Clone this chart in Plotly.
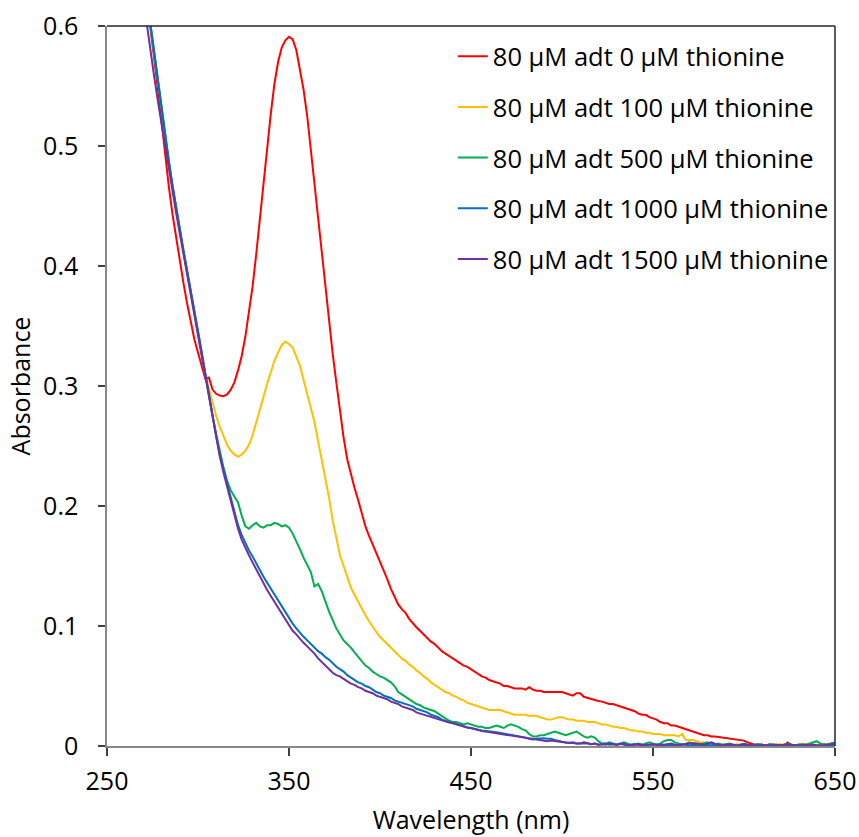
import plotly.graph_objects as go

# Wavelength grid (nm), 2 nm steps
wavelengths = list(range(270, 651, 2))

abs_0 = [
    0.645, 0.622, 0.597, 0.572, 0.547, 0.520, 0.491, 0.466, 0.443, 0.423,
    0.404, 0.386, 0.369, 0.353, 0.339, 0.328, 0.316, 0.306, 0.307, 0.297,
    0.2935, 0.292, 0.2915, 0.293, 0.297, 0.303, 0.313, 0.325, 0.341, 0.362,
    0.383, 0.410, 0.440, 0.468, 0.495, 0.527, 0.552, 0.570, 0.582, 0.588,
    0.591, 0.589, 0.580, 0.563, 0.547, 0.525, 0.497, 0.467, 0.437, 0.410,
    0.380, 0.353, 0.327, 0.303, 0.278, 0.257, 0.239, 0.226, 0.215, 0.205,
    0.194, 0.183, 0.175, 0.168, 0.161, 0.154, 0.147, 0.139, 0.131, 0.124,
    0.118, 0.114, 0.111, 0.106, 0.102, 0.099, 0.096, 0.093, 0.090, 0.087,
    0.085, 0.082, 0.079, 0.077, 0.075, 0.073, 0.071, 0.069, 0.067, 0.066,
    0.064, 0.062, 0.060, 0.058, 0.057, 0.055, 0.054, 0.053, 0.052, 0.050,
    0.050, 0.049, 0.048, 0.048, 0.048, 0.047, 0.049, 0.047, 0.046, 0.046,
    0.045, 0.045, 0.045, 0.045, 0.0455, 0.045, 0.044, 0.043, 0.042, 0.044,
    0.044, 0.041, 0.040, 0.039, 0.038, 0.0375, 0.037, 0.036, 0.035, 0.035,
    0.034, 0.033, 0.032, 0.031, 0.030, 0.029, 0.027, 0.026, 0.026, 0.024,
    0.023, 0.022, 0.020, 0.019, 0.019, 0.017, 0.017, 0.016, 0.015, 0.014,
    0.013, 0.012, 0.011, 0.010, 0.009, 0.009, 0.008, 0.008, 0.0075, 0.0075,
    0.007, 0.0065, 0.006, 0.0055, 0.005, 0.0045, 0.003, 0.002, 0.001, 0.0015,
    0.001, 0.0005, 0.0015, 0.001, 0.0005, 0.001, 0.0005, 0.003, 0.001, 0.0005,
    0.001, 0.0015, 0.001, 0.0005, 0.001, 0.0005, 0.001, 0.0015, 0.001, 0.0005,
    0.001,
]

abs_100 = [
    0.645, 0.622, 0.599, 0.576, 0.553, 0.531, 0.508, 0.487, 0.467, 0.448,
    0.430, 0.413, 0.396, 0.379, 0.362, 0.343, 0.325, 0.309, 0.298, 0.286,
    0.275, 0.266, 0.258, 0.251, 0.246, 0.243, 0.241, 0.243, 0.246, 0.251,
    0.259, 0.269, 0.279, 0.291, 0.302, 0.312, 0.321, 0.328, 0.334, 0.337,
    0.335, 0.332, 0.325, 0.317, 0.305, 0.294, 0.283, 0.270, 0.254, 0.239,
    0.224, 0.207, 0.188, 0.172, 0.159, 0.150, 0.141, 0.132, 0.126, 0.120,
    0.114, 0.109, 0.104, 0.099, 0.095, 0.091, 0.088, 0.085, 0.082, 0.079,
    0.076, 0.073, 0.071, 0.068, 0.066, 0.063, 0.061, 0.058, 0.056, 0.053,
    0.051, 0.049, 0.047, 0.045, 0.044, 0.042, 0.041, 0.039, 0.038, 0.036,
    0.035, 0.034, 0.033, 0.032, 0.031, 0.030, 0.030, 0.030, 0.030, 0.029,
    0.028, 0.027, 0.026, 0.026, 0.026, 0.026, 0.025, 0.0255, 0.025, 0.024,
    0.023, 0.022, 0.022, 0.023, 0.024, 0.024, 0.023, 0.022, 0.022, 0.021,
    0.021, 0.021, 0.020, 0.020, 0.020, 0.019, 0.018, 0.018, 0.017, 0.016,
    0.016, 0.015, 0.015, 0.014, 0.013, 0.013, 0.012, 0.012, 0.011, 0.011,
    0.010, 0.010, 0.010, 0.009, 0.009, 0.009, 0.009, 0.008, 0.010, 0.005,
    0.005, 0.005, 0.004, 0.003, 0.003, 0.002, 0.002, 0.0015, 0.001, 0.0015,
    0.001, 0.0005, 0.001, 0.0015, 0.001, 0.0005, 0.001, 0.0005, 0.0, 0.0005,
    0.001, 0.0005, 0.0, 0.0005, 0.001, 0.0015, 0.001, 0.0005, 0.0, 0.0005,
    0.001, 0.002, 0.001, 0.0005, 0.001, 0.0005, 0.0, 0.0005, 0.001, 0.0005,
    0.001,
]

abs_500 = [
    0.645, 0.622, 0.599, 0.576, 0.553, 0.531, 0.508, 0.487, 0.467, 0.448,
    0.430, 0.413, 0.396, 0.380, 0.362, 0.345, 0.327, 0.309, 0.291, 0.275,
    0.260, 0.246, 0.232, 0.221, 0.213, 0.208, 0.203, 0.192, 0.183, 0.181,
    0.184, 0.186, 0.183, 0.182, 0.184, 0.184, 0.186, 0.185, 0.183, 0.184,
    0.182, 0.177, 0.171, 0.164, 0.157, 0.151, 0.145, 0.133, 0.135, 0.129,
    0.120, 0.112, 0.105, 0.098, 0.093, 0.088, 0.085, 0.082, 0.078, 0.074,
    0.070, 0.067, 0.065, 0.062, 0.060, 0.058, 0.057, 0.055, 0.053, 0.050,
    0.045, 0.043, 0.041, 0.039, 0.037, 0.035, 0.034, 0.032, 0.031, 0.030,
    0.029, 0.027, 0.025, 0.023, 0.021, 0.020, 0.020, 0.019, 0.018, 0.019,
    0.018, 0.017, 0.016, 0.016, 0.015, 0.015, 0.016, 0.017, 0.016, 0.015,
    0.017, 0.018, 0.017, 0.016, 0.014, 0.013, 0.010, 0.008, 0.008, 0.009,
    0.009, 0.010, 0.011, 0.012, 0.011, 0.010, 0.009, 0.010, 0.011, 0.012,
    0.010, 0.008, 0.007, 0.008, 0.007, 0.004, 0.002, 0.002, 0.003, 0.002,
    0.001, 0.002, 0.003, 0.002, 0.001, 0.0015, 0.002, 0.001, 0.002, 0.003,
    0.002, 0.001, 0.002, 0.004, 0.005, 0.005, 0.003, 0.002, 0.001, 0.002,
    0.003, 0.002, 0.001, 0.0015, 0.002, 0.003, 0.002, 0.001, 0.002, 0.001,
    0.0015, 0.002, 0.001, 0.0005, 0.001, 0.002, 0.001, 0.0005, 0.001, 0.0015,
    0.001, 0.0005, 0.001, 0.0015, 0.001, 0.0005, 0.001, 0.002, 0.001, 0.0005,
    0.001, 0.0015, 0.001, 0.002, 0.003, 0.004, 0.002, 0.001, 0.0015, 0.002,
    0.003,
]

abs_1000 = [
    0.645, 0.622, 0.599, 0.576, 0.553, 0.531, 0.508, 0.487, 0.467, 0.448,
    0.430, 0.413, 0.396, 0.380, 0.363, 0.346, 0.329, 0.311, 0.293, 0.275,
    0.258, 0.243, 0.230, 0.219, 0.207, 0.195, 0.184, 0.176, 0.169, 0.163,
    0.158, 0.152, 0.146, 0.141, 0.136, 0.131, 0.126, 0.121, 0.116, 0.111,
    0.106, 0.102, 0.098, 0.094, 0.091, 0.088, 0.085, 0.082, 0.079, 0.077,
    0.074, 0.072, 0.069, 0.066, 0.064, 0.062, 0.059, 0.057, 0.055, 0.053,
    0.052, 0.050, 0.049, 0.047, 0.045, 0.044, 0.042, 0.041, 0.040, 0.038,
    0.037, 0.036, 0.035, 0.034, 0.033, 0.031, 0.030, 0.029, 0.028, 0.026,
    0.025, 0.024, 0.022, 0.021, 0.020, 0.019, 0.018, 0.017, 0.016, 0.0155,
    0.015, 0.014, 0.0135, 0.013, 0.0128, 0.012, 0.0118, 0.0115, 0.011, 0.010,
    0.0098, 0.009, 0.009, 0.0085, 0.0078, 0.007, 0.006, 0.0055, 0.006, 0.0065,
    0.0065, 0.006, 0.006, 0.005, 0.004, 0.0035, 0.003, 0.003, 0.0025, 0.002,
    0.002, 0.0025, 0.002, 0.0015, 0.002, 0.001, 0.0015, 0.002, 0.001, 0.0015,
    0.001, 0.002, 0.001, 0.0005, 0.001, 0.0015, 0.001, 0.0005, 0.001, 0.001,
    0.0005, 0.001, 0.0015, 0.001, 0.0005, 0.001, 0.0005, 0.001, 0.0015, 0.001,
    0.0005, 0.001, 0.0005, 0.0, 0.0005, 0.001, 0.0005, 0.001, 0.0005, 0.0,
    0.0005, 0.001, 0.0005, 0.0, 0.0005, 0.001, 0.0, 0.0005, 0.001, 0.0005,
    0.0, 0.0005, 0.001, 0.0005, 0.0, 0.0005, 0.001, 0.0005, 0.0, 0.0005,
    0.001, 0.0005, 0.0, 0.0005, 0.001, 0.0005, 0.0, 0.0005, 0.001, 0.0005,
    0.001,
]

abs_1500 = [
    0.622, 0.599, 0.578, 0.557, 0.537, 0.518, 0.499, 0.480, 0.462, 0.444,
    0.427, 0.410, 0.394, 0.377, 0.360, 0.343, 0.326, 0.308, 0.290, 0.272,
    0.256, 0.241, 0.228, 0.216, 0.204, 0.192, 0.181, 0.172, 0.165, 0.159,
    0.153, 0.147, 0.141, 0.135, 0.130, 0.125, 0.120, 0.115, 0.110, 0.105,
    0.100, 0.096, 0.093, 0.089, 0.086, 0.083, 0.080, 0.077, 0.073, 0.070,
    0.067, 0.064, 0.061, 0.059, 0.058, 0.056, 0.054, 0.052, 0.051, 0.049,
    0.048, 0.046, 0.045, 0.044, 0.042, 0.041, 0.040, 0.039, 0.037, 0.036,
    0.035, 0.033, 0.032, 0.031, 0.030, 0.028, 0.027, 0.026, 0.025, 0.024,
    0.023, 0.022, 0.021, 0.020, 0.0195, 0.019, 0.018, 0.017, 0.016, 0.0155,
    0.015, 0.014, 0.013, 0.0125, 0.012, 0.0115, 0.011, 0.0105, 0.010, 0.0095,
    0.009, 0.0085, 0.008, 0.0075, 0.007, 0.0065, 0.006, 0.0055, 0.005, 0.005,
    0.0045, 0.004, 0.0045, 0.004, 0.0035, 0.003, 0.003, 0.0025, 0.003, 0.002,
    0.002, 0.003, 0.0025, 0.0015, 0.002, 0.001, 0.0015, 0.001, 0.002, 0.0015,
    0.001, 0.0015, 0.002, 0.001, 0.0005, 0.001, 0.0015, 0.001, 0.0005, 0.001,
    0.0015, 0.001, 0.0005, 0.001, 0.0015, 0.002, 0.001, 0.0005, 0.001, 0.0015,
    0.002, 0.0025, 0.002, 0.0015, 0.001, 0.002, 0.003, 0.002, 0.001, 0.0005,
    0.001, 0.0015, 0.001, 0.0005, 0.001, 0.0015, 0.001, 0.0005, 0.0, 0.0005,
    0.001, 0.0005, 0.0, 0.0005, 0.001, 0.0005, 0.001, 0.0015, 0.001, 0.0005,
    0.0, 0.0005, 0.001, 0.0005, 0.001, 0.0005, 0.0, 0.0005, 0.001, 0.0015,
    0.002,
]

series_names = [
    "80 µM adt 0 µM thionine",
    "80 µM adt 100 µM thionine",
    "80 µM adt 500 µM thionine",
    "80 µM adt 1000 µM thionine",
    "80 µM adt 1500 µM thionine",
]
series_values = [abs_0, abs_100, abs_500, abs_1000, abs_1500]
series_colors = ["#FF0000", "#FFC000", "#00B050", "#0070C0", "#7030A0"]

x_ticks = [250, 350, 450, 550, 650]
y_ticks = [0, 0.1, 0.2, 0.3, 0.4, 0.5, 0.6]
y_ticktext = ["0", "0.1", "0.2", "0.3", "0.4", "0.5", "0.6"]

FONT = "Open Sans"
FS = 25
LEG_FS = 25.5

fig = go.Figure()
for name, ys, color in zip(series_names, series_values, series_colors):
    fig.add_trace(go.Scatter(
        x=wavelengths, y=ys, mode="lines", name=name,
        legendgroup=name,
        line=dict(color=color, width=2),
    ))

fig.update_layout(
    width=859, height=837,
    margin=dict(l=107, r=24, t=26, b=91, autoexpand=False),
    paper_bgcolor="white", plot_bgcolor="white",
    font=dict(family=FONT, size=FS, color="#000000"),
    showlegend=True,
    legend=dict(
        x=0.475, y=0.990, xanchor="left", yanchor="top",
        bgcolor="rgba(0,0,0,0)", font=dict(family=FONT, size=LEG_FS, color="#000000"),
        tracegroupgap=14.5, itemwidth=30,
    ),
    xaxis=dict(
        range=[250, 650], tickvals=x_ticks, ticks="outside", ticklen=8,
        tickcolor="#404040", tickwidth=1.5,
        showline=True, linecolor="#898989", linewidth=1.5,
        showgrid=False, zeroline=False,
        tickfont=dict(family=FONT, size=FS, color="#000000"),
        ticklabelstandoff=4,
        title=dict(text="Wavelength (nm)", font=dict(family=FONT, size=FS, color="#000000"), standoff=16),
    ),
    yaxis=dict(
        range=[0, 0.6], tickvals=y_ticks, ticktext=y_ticktext, ticks="outside", ticklen=7,
        tickcolor="#404040", tickwidth=1.5,
        showline=True, linecolor="#898989", linewidth=1.5,
        showgrid=False, zeroline=False,
        tickfont=dict(family=FONT, size=FS, color="#000000"),
        ticklabelstandoff=15,
        title=dict(text="Absorbance", font=dict(family=FONT, size=FS, color="#000000"), standoff=5),
    ),
    shapes=[
        dict(type="line", xref="paper", yref="paper", x0=0, x1=1, y0=1, y1=1,
             line=dict(color="#262626", width=1.5)),
        dict(type="line", xref="paper", yref="paper", x0=1, x1=1, y0=0, y1=1,
             line=dict(color="#262626", width=1.5)),
    ],
)

fig.write_html(
    "out.html",
    config={"displayModeBar": False},
    post_script="document.body.style.margin='0px';",
)
